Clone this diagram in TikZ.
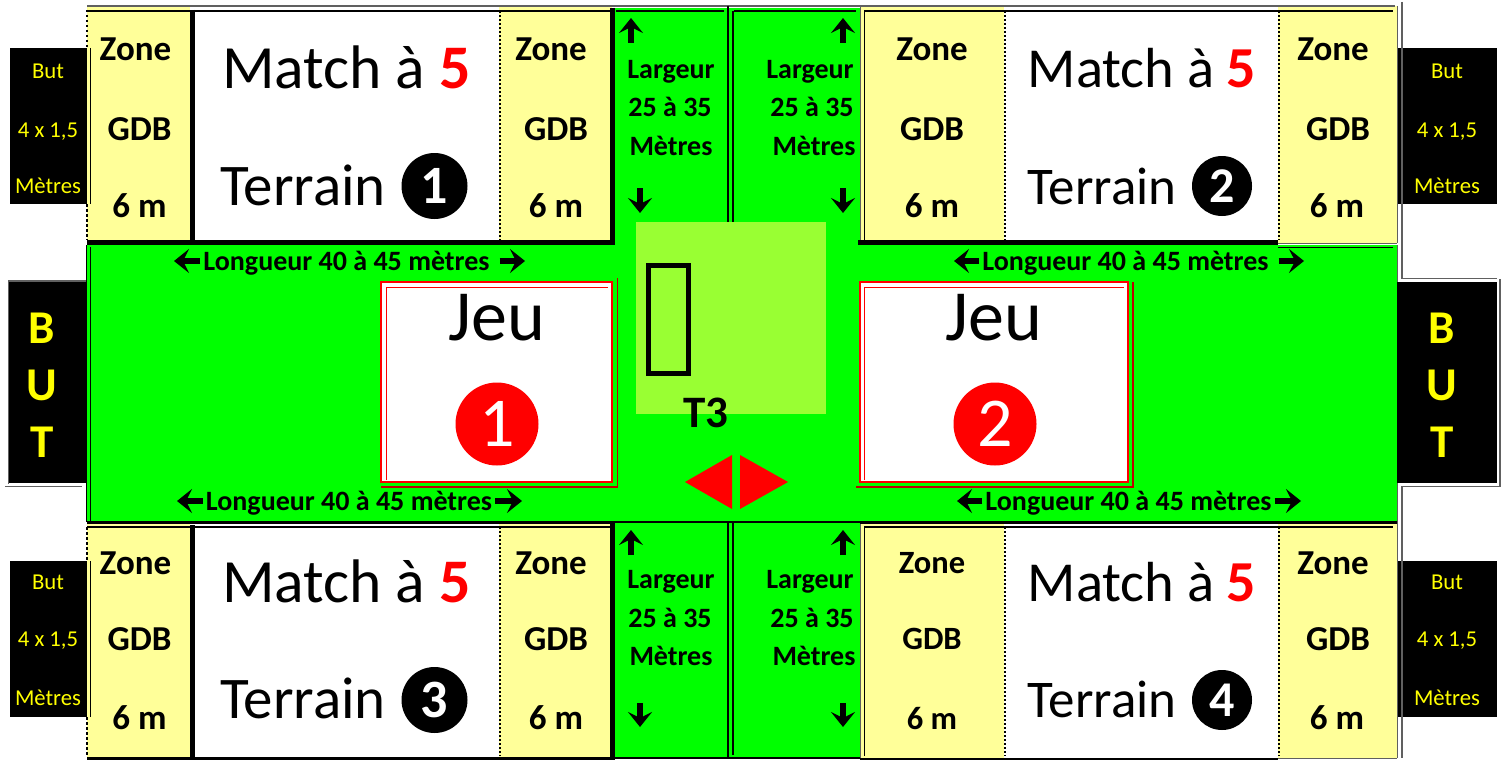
\documentclass[tikz,border=0pt]{standalone}
\usepackage{fontspec}
\setmainfont{Carlito}
\usepackage{xcolor}
\usepackage{tikz}
\usetikzlibrary{arrows.meta, positioning, calc}
\definecolor{fieldgreen}{HTML}{00FF00}
\definecolor{zonegreen}{HTML}{99FF33}
\definecolor{gdbyellow}{HTML}{FFFF99}
\definecolor{goalyellow}{HTML}{FFFF00}
\definecolor{jeured}{HTML}{FF0000}
\definecolor{edgegrey}{HTML}{606060}
\newcommand{\fsize}[1]{\fontsize{#1}{#1}\selectfont}

\begin{document}
\begin{tikzpicture}[
    x=1pt, y=-1pt,
    txt/.style={inner sep=0pt, anchor=base},
    txtleft/.style={inner sep=0pt, anchor=base west},
    gdb/.style={txt, font=\fsize{35}\bfseries},
    gdbsmall/.style={txt, font=\fsize{32.5}\bfseries},
    dimtxt/.style={txt, font=\fsize{28}\bfseries},
    goalsmall/.style={txt, text=goalyellow, font=\fsize{22.7}},
    goalbig/.style={txt, text=goalyellow, font=\fsize{47}\bfseries},
    matchtxt/.style={txtleft, font=\fsize{61.5}},
    matchsmall/.style={txtleft, font=\fsize{56.5}},
    terraintxt/.style={txtleft, font=\fsize{59}},
    terrainsmall/.style={txtleft, font=\fsize{53}},
    five/.style={txtleft, text=jeured, font=\fsize{62}\bfseries},
    fivesmall/.style={txtleft, text=jeured, font=\fsize{58}\bfseries},
    jeutxt/.style={txt, font=\fsize{72}},
    numblack/.style={circle, fill=black, text=white, inner sep=0pt, minimum size=66pt, font=\fsize{54}\bfseries},
    numsmall/.style={circle, fill=black, text=white, inner sep=0pt, minimum size=60pt, font=\fsize{50}\bfseries},
    numred/.style={circle, fill=jeured, text=white, inner sep=0pt, minimum size=83pt, font=\fsize{70}},
    dimarrow/.style={-{Stealth[length=15pt, width=24pt, inset=6pt]}, line width=6.5pt},
    thinline/.style={line width=1.2pt, black},
    edgeline/.style={line width=1pt, edgegrey},
    greyline/.style={line width=1.6pt, edgegrey},
    thickline/.style={line width=5pt, black},
    dotline/.style={line width=2.5pt, black, dash pattern=on 2.5pt off 2.5pt},
    fineline/.style={line width=2pt, black, dash pattern=on 2pt off 2pt},
]
\useasboundingbox (0,0) rectangle (1503,760);
\fill[white] (0,0) rectangle (1503,760);

% field
\fill[fieldgreen] (87,245) rectangle (1397,522);
\fill[fieldgreen] (614,8) rectangle (860,758);
\draw[thinline] (86.5,245) -- (86.5,522);
\draw[thinline] (90.5,247) -- (90.5,522);
\draw[edgeline] (1397,245) -- (1397,522);
\draw[thinline] (87,522) -- (1397,522);
\draw[thinline] (1278,247.5) -- (1393,247.5);
\draw[greyline] (614,6) -- (860,6);
\draw[thinline] (616,11) -- (724,11);
\draw[thinline] (734,11) -- (856,11);
\draw[thinline] (728,6) -- (728,222);
\draw[thinline] (733,11) -- (733,222);
\draw[thinline] (728,523) -- (728,758);
\draw[thinline] (733,523) -- (733,755);
\draw[thinline] (615,758) -- (860,758);

% goals
\fill[black] (10,48) rectangle (87,204);
\fill[black] (10,561) rectangle (87,717);
\fill[black] (9,282) rectangle (87,483);
\fill[black] (1397,48) rectangle (1497,204);
\fill[black] (1397,561) rectangle (1497,717);
\fill[black] (1397,282) rectangle (1497,483);
\draw[greyline] (8.5,282) -- (8.5,484);
\draw[greyline] (8,281) -- (86,281);
\draw[greyline] (5,486.5) -- (82,486.5);
\draw[greyline] (1402,2) -- (1402,278.5) -- (1497,278.5);
\draw[greyline] (1500,279) -- (1500,486.5) -- (1402,486.5) -- (1402,758);

% terrain 1
\fill[gdbyellow] (87,6) rectangle (190,243);
\fill[gdbyellow] (499,6) rectangle (612,243);
\draw[greyline] (87,6) -- (614,6);
\draw[thinline] (87,11) -- (610,11);
\draw[thickline] (192.5,10) -- (192.5,240);
\draw[thickline] (612.5,8) -- (612.5,245);
\draw[thickline] (87,242.5) -- (615,242.5);
\draw[dotline] (87,10) -- (87,48);
\draw[dotline] (87,204) -- (87,240);
\draw[thinline] (90.5,48) -- (90.5,204);
\draw[fineline] (499.5,11) -- (499.5,240);

% terrain 2
\fill[gdbyellow] (860,6) rectangle (1004,243);
\fill[gdbyellow] (1278,6) rectangle (1397,243);
\draw[greyline] (860,6) -- (1395,6);
\draw[greyline] (860.5,6) -- (860.5,240);
\draw[thinline] (864.5,11) -- (864.5,240);
\draw[thinline] (864,11) -- (1393,11);
\draw[edgeline] (1397,6) -- (1397,243);
\draw[thickline] (858,242.5) -- (1278,242.5);
\draw[edgeline] (1278,243) -- (1397,243);
\draw[fineline] (1004.5,11) -- (1004.5,240);
\draw[fineline] (1278.5,11) -- (1278.5,240);

% terrain 3
\fill[gdbyellow] (87,522) rectangle (190,758);
\fill[gdbyellow] (499,522) rectangle (612,758);
\draw[thinline] (87,523) -- (614,523);
\draw[thinline] (87,527) -- (610,527);
\draw[thickline] (192.5,525) -- (192.5,758);
\draw[thickline] (612.5,522) -- (612.5,758);
\draw[line width=3pt, black] (87,758.5) -- (615,758.5);
\draw[dotline] (87,527) -- (87,561);
\draw[dotline] (87,717) -- (87,756);
\draw[thinline] (90.5,561) -- (90.5,717);
\draw[fineline] (499.5,527) -- (499.5,756);

% terrain 4
\fill[gdbyellow] (860,522) rectangle (1004,758);
\fill[gdbyellow] (1278,522) rectangle (1397,758);
\draw[greyline] (860.5,523) -- (860.5,758);
\draw[thinline] (860,523) -- (1397,523);
\draw[thinline] (864.5,527) -- (864.5,756);
\draw[thinline] (864,527) -- (1393,527);
\draw[edgeline] (1397,522) -- (1397,758);
\draw[line width=2pt, black] (860,758.5) -- (1278,758.5);
\draw[edgeline] (1278,758) -- (1397,758);
\draw[fineline] (1004.5,527) -- (1004.5,756);
\draw[fineline] (1278.5,527) -- (1278.5,756);

% jeu boxes
\fill[white] (381,282) rectangle (612,482);
\draw[jeured, line width=1.2pt] (381,282) rectangle (612,482);
\draw[jeured, line width=1pt] (386,480) -- (386,287) -- (608,287);
\draw[jeured!75!black, line width=1.2pt] (381,487) -- (617.5,487) -- (617.5,278);
\fill[white] (860,282) rectangle (1128,482);
\draw[jeured, line width=1.2pt] (860,282) rectangle (1128,482);
\draw[jeured, line width=1pt] (864.5,480) -- (864.5,287) -- (1124,287);
\draw[jeured!75!black, line width=1.2pt] (856,487) -- (1133,487) -- (1133,282);

% central zone
\fill[zonegreen] (636,222) rectangle (826,414);
\draw[line width=5pt, black] (648.5,265.5) rectangle (688,373);
\fill[jeured] (685,482) -- (732,455) -- (732,509) -- cycle;
\fill[jeured] (740,455) -- (788,482) -- (740,509) -- cycle;
\node[txt, font=\fsize{45}\bfseries] (t3) at (706,427) {T3};

% goal labels
\node[goalsmall] (but1a) at (48,78) {But};
\node[goalsmall] (but1b) at (48,137) {4 x 1,5};
\node[goalsmall] (but1c) at (48,193) {Mètres};
\node[goalsmall] (but2a) at (1447,78) {But};
\node[goalsmall] (but2b) at (1447,137) {4 x 1,5};
\node[goalsmall] (but2c) at (1447,193) {Mètres};
\node[goalsmall] (but3a) at (48,589) {But};
\node[goalsmall] (but3b) at (48,646) {4 x 1,5};
\node[goalsmall] (but3c) at (48,705) {Mètres};
\node[goalsmall] (but4a) at (1447,589) {But};
\node[goalsmall] (but4b) at (1447,646) {4 x 1,5};
\node[goalsmall] (but4c) at (1447,705) {Mètres};
\node[goalbig] (butlb) at (42,343) {B};
\node[goalbig] (butlu) at (42,400) {U};
\node[goalbig] (butlt) at (42,457) {T};
\node[goalbig] (butrb) at (1442,343) {B};
\node[goalbig] (butru) at (1442,400) {U};
\node[goalbig] (butrt) at (1442,457) {T};

% zone labels
\node[gdb] (zone1a) at (135.5,60.5) {Zone};
\node[gdb] (gdb1a) at (139.5,140) {GDB};
\node[gdb] (six1a) at (139.5,217.5) {6 m};
\node[gdb] (zone1b) at (551,60.5) {Zone};
\node[gdb] (gdb1b) at (556,140) {GDB};
\node[gdb] (six1b) at (556,217.5) {6 m};
\node[gdb] (zone2a) at (932,60.5) {Zone};
\node[gdb] (gdb2a) at (932,140) {GDB};
\node[gdb] (six2a) at (932,217.5) {6 m};
\node[gdb] (zone2b) at (1333,60.5) {Zone};
\node[gdb] (gdb2b) at (1338,140) {GDB};
\node[gdb] (six2b) at (1337,217.5) {6 m};
\node[gdb] (zone3a) at (135.5,574) {Zone};
\node[gdb] (gdb3a) at (139.5,650) {GDB};
\node[gdb] (six3a) at (139.5,729.5) {6 m};
\node[gdb] (zone3b) at (551,574) {Zone};
\node[gdb] (gdb3b) at (556,650) {GDB};
\node[gdb] (six3b) at (556,729.5) {6 m};
\node[gdbsmall] (zone4a) at (932,573) {Zone};
\node[gdbsmall] (gdb4a) at (932,649) {GDB};
\node[gdbsmall] (six4a) at (932,729) {6 m};
\node[gdb] (zone4b) at (1333,574) {Zone};
\node[gdb] (gdb4b) at (1338,650) {GDB};
\node[gdb] (six4b) at (1337,729.5) {6 m};

% terrain labels
\node[matchtxt] (match1) at (222,88.5) {Match à};
\node[five] (five1) at (439,88) {5};
\node[terraintxt] (terrain1) at (220,205) {Terrain};
\node[numblack] (num1) at (434.5,186) {1};
\node[matchsmall] (match2) at (1027.5,87) {Match à};
\node[fivesmall] (five2) at (1226,87) {5};
\node[terrainsmall] (terrain2) at (1027.5,204) {Terrain};
\node[numsmall] (num2) at (1222,186) {2};
\node[matchtxt] (match3) at (222,602.5) {Match à};
\node[five] (five3) at (439,602) {5};
\node[terraintxt] (terrain3) at (220,718.5) {Terrain};
\node[numblack] (num3) at (434.5,700) {3};
\node[matchsmall] (match4) at (1027.5,601) {Match à};
\node[fivesmall] (five4) at (1226,601) {5};
\node[terrainsmall] (terrain4) at (1027.5,717) {Terrain};
\node[numsmall] (num4) at (1222,700) {4};

% jeu labels
\node[jeutxt] (jeu1) at (496.5,340) {Jeu};
\node[numred] (rond1) at (497,424) {1};
\node[jeutxt] (jeu2) at (994,340) {Jeu};
\node[numred] (rond2) at (995,424) {2};

% longueur
\node[dimtxt] (long1) at (346.5,270) {Longueur 40 à 45 mètres};
\node[dimtxt] (long2) at (1125.5,270) {Longueur 40 à 45 mètres};
\node[dimtxt] (long3) at (349,510) {Longueur 40 à 45 mètres};
\node[dimtxt] (long4) at (1128.5,510) {Longueur 40 à 45 mètres};
\coordinate (long1l) at (174,261);
\coordinate (long1r) at (525,261);
\coordinate (long2l) at (954,261);
\coordinate (long2r) at (1304,261);
\coordinate (long3l) at (177,501);
\coordinate (long3r) at (522,501);
\coordinate (long4l) at (957,501);
\coordinate (long4r) at (1301,501);
\draw[dimarrow] (long1l -| long1.west) ++(-3,0) -- (long1l);
\draw[dimarrow] (long1r -| long1.east) ++(10,0) -- (long1r);
\draw[dimarrow] (long2l -| long2.west) ++(-3,0) -- (long2l);
\draw[dimarrow] (long2r -| long2.east) ++(10,0) -- (long2r);
\draw[dimarrow] (long3l -| long3.west) ++(-3,0) -- (long3l);
\draw[dimarrow] (long3r -| long3.east) ++(3,0) -- (long3r);
\draw[dimarrow] (long4l -| long4.west) ++(-3,0) -- (long4l);
\draw[dimarrow] (long4r -| long4.east) ++(3,0) -- (long4r);

% largeur
\node[dimtxt] (larg1a) at (671,78) {Largeur};
\node[dimtxt] (larg1b) at (670,116) {25 à 35};
\node[dimtxt] (larg1c) at (671,155) {Mètres};
\node[dimtxt] (larg2a) at (810,78) {Largeur};
\node[dimtxt] (larg2b) at (812,116) {25 à 35};
\node[dimtxt] (larg2c) at (814,155) {Mètres};
\node[dimtxt] (larg3a) at (671,588) {Largeur};
\node[dimtxt] (larg3b) at (670,627) {25 à 35};
\node[dimtxt] (larg3c) at (671,665) {Mètres};
\node[dimtxt] (larg4a) at (810,588) {Largeur};
\node[dimtxt] (larg4b) at (812,627) {25 à 35};
\node[dimtxt] (larg4c) at (814,665) {Mètres};
\coordinate (up1a) at (631,43);
\coordinate (up1b) at (631,18);
\coordinate (down1a) at (640,188);
\coordinate (down1b) at (640,213);
\coordinate (up2a) at (843,43);
\coordinate (up2b) at (843,18);
\coordinate (down2a) at (843,188);
\coordinate (down2b) at (843,213);
\coordinate (up3a) at (631,555);
\coordinate (up3b) at (631,530);
\coordinate (down3a) at (640,703);
\coordinate (down3b) at (640,727);
\coordinate (up4a) at (843,555);
\coordinate (up4b) at (843,530);
\coordinate (down4a) at (843,703);
\coordinate (down4b) at (843,727);
\draw[dimarrow] (up1a) -- (up1b);
\draw[dimarrow] (down1a) -- (down1b);
\draw[dimarrow] (up2a) -- (up2b);
\draw[dimarrow] (down2a) -- (down2b);
\draw[dimarrow] (up3a) -- (up3b);
\draw[dimarrow] (down3a) -- (down3b);
\draw[dimarrow] (up4a) -- (up4b);
\draw[dimarrow] (down4a) -- (down4b);
\end{tikzpicture}
\end{document}
